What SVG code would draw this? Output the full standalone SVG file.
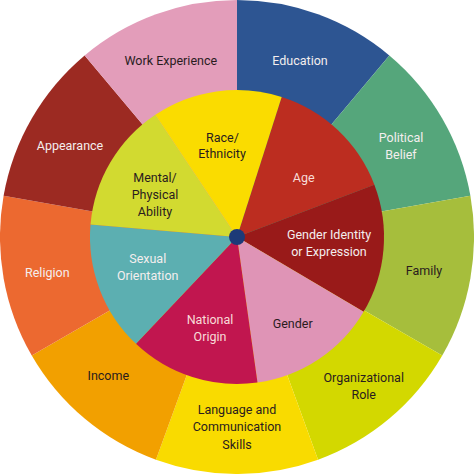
<svg xmlns="http://www.w3.org/2000/svg" width="474" height="474" viewBox="0 0 474 474">
<style>
text{font-family:Roboto,"Liberation Sans",sans-serif;font-size:12.5px;text-anchor:middle}
.d{fill:#2a1c1e}
.l{fill:#f4eeee}
.p{fill:#f8dcd8}
</style>
<rect width="474" height="474" fill="#ffffff"/>
<g id="outer">
<g id="education"><path d="M237,237 L237,0 A237,237 0 0 1 389.34,55.45 Z" fill="#2D5592"/><text class="l" x="300" y="64.5">Education</text></g>
<g id="political-belief"><path d="M237,237 L389.34,55.45 A237,237 0 0 1 470.40,195.85 Z" fill="#55A67B"/><text class="l" x="401" y="141.5">Political</text><text class="l" x="401" y="158.5">Belief</text></g>
<g id="family"><path d="M237,237 L470.40,195.85 A237,237 0 0 1 442.25,355.5 Z" fill="#A6BE3C"/><text class="d" x="424" y="274.5">Family</text></g>
<g id="organizational-role"><path d="M237,237 L442.25,355.5 A237,237 0 0 1 318.06,459.71 Z" fill="#D3D800"/><text class="d" x="363.7" y="382">Organizational</text><text class="d" x="363.7" y="399">Role</text></g>
<g id="language"><path d="M237,237 L318.06,459.71 A237,237 0 0 1 155.94,459.71 Z" fill="#F9DB00"/><text class="d" x="237" y="413.5">Language and</text><text class="d" x="237" y="431">Communication</text><text class="d" x="237" y="448.5">Skills</text></g>
<g id="income"><path d="M237,237 L155.94,459.71 A237,237 0 0 1 31.75,355.5 Z" fill="#F2A000"/><text class="d" x="108.3" y="379.8">Income</text></g>
<g id="religion"><path d="M237,237 L31.75,355.5 A237,237 0 0 1 3.60,195.85 Z" fill="#EC6930"/><text class="l" x="47.3" y="276.5">Religion</text></g>
<g id="appearance"><path d="M237,237 L3.60,195.85 A237,237 0 0 1 84.66,55.45 Z" fill="#9C2A22"/><text class="l" x="70" y="150">Appearance</text></g>
<g id="work-experience"><path d="M237,237 L84.66,55.45 A237,237 0 0 1 237,0 Z" fill="#E39DBA"/><text class="d" x="170.8" y="64.5">Work Experience</text></g>
</g>
<g id="inner">
<g id="age"><path d="M237,237 L281.69,96.96 A147,147 0 0 1 374.35,184.63 Z" fill="#BC2D20"/><text class="p" x="303.7" y="182">Age</text></g>
<g id="gender-identity"><path d="M237,237 L374.35,184.63 A147,147 0 0 1 363.61,311.74 Z" fill="#991A19"/><text class="l" x="329" y="238.5">Gender Identity</text><text class="l" x="329" y="255.5">or Expression</text></g>
<g id="gender"><path d="M237,237 L363.61,311.74 A147,147 0 0 1 257.48,382.57 Z" fill="#DF94B6"/><text class="d" x="292.7" y="328">Gender</text></g>
<g id="national-origin"><path d="M237,237 L257.48,382.57 A147,147 0 0 1 135.98,343.79 Z" fill="#C1164F"/><text class="p" x="210" y="323.5">National</text><text class="p" x="210" y="341">Origin</text></g>
<g id="sexual-orientation"><path d="M237,237 L135.98,343.79 A147,147 0 0 1 90.52,224.60 Z" fill="#5CAFB1"/><text class="l" x="147.7" y="263">Sexual</text><text class="l" x="147.7" y="280.3">Orientation</text></g>
<g id="mental-physical"><path d="M237,237 L90.52,224.60 A147,147 0 0 1 155.37,114.75 Z" fill="#D2DA30"/><text class="d" x="155" y="182.3">Mental/</text><text class="d" x="155" y="199.3">Physical</text><text class="d" x="155" y="216.3">Ability</text></g>
<g id="race-ethnicity"><path d="M237,237 L155.37,114.75 A147,147 0 0 1 281.69,96.96 Z" fill="#FADC00"/><text class="d" x="222.5" y="141.7">Race/</text><text class="d" x="222" y="158.3">Ethnicity</text></g>
</g>
<g id="center"><circle cx="237" cy="237" r="8" fill="#1D3A78"/></g>
<g id="connectors"/>
</svg>
